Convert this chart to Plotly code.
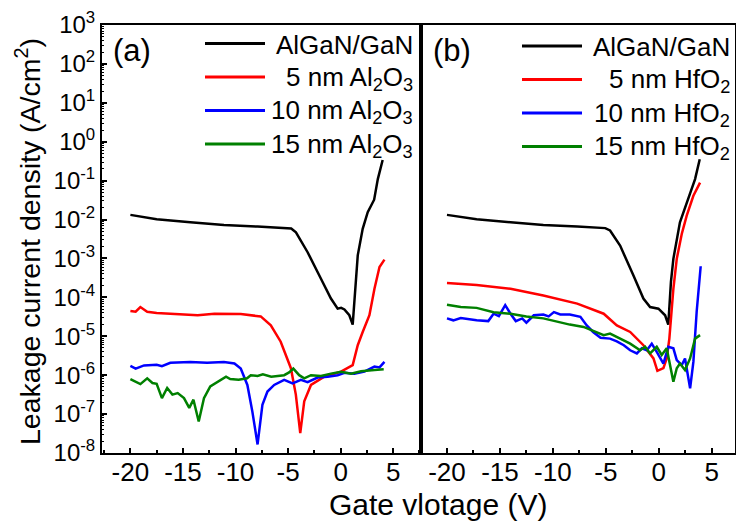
import numpy as np
import plotly.graph_objects as go
from plotly.subplots import make_subplots

# ---- Data: gate voltage (V) and log10 of leakage current density (A/cm^2) ----
# (a) AlGaN/GaN reference and Al2O3 gate dielectrics
ref_a_v = [-20, -17.5, -14.3, -11.1, -7.9, -4.7, -4.25, -3.14, -1.87, -0.92, -0.28,
           0.05, 0.36, 0.83, 1.15, 1.47, 1.63, 2.1, 2.58, 3.19, 3.54, 4.0]
ref_a_lg = [-1.88, -1.99, -2.07, -2.14, -2.18, -2.23, -2.33, -2.84, -3.52, -4.03, -4.29,
            -4.27, -4.31, -4.46, -4.70, -3.52, -2.92, -2.24, -1.81, -1.49, -0.96, -0.47]

al5_v = [-20, -19.5, -19.05, -18.4, -17.5, -15.9, -13.6, -12.0, -11.1, -9.5, -7.6, -6.64,
         -5.7, -4.73, -4.26, -3.84, -3.46, -2.82, -1.55, 0.04, 1.15, 1.63, 2.1, 2.74,
         3.22, 3.7, 4.17]
al5_lg = [-4.35, -4.37, -4.25, -4.37, -4.40, -4.42, -4.46, -4.42, -4.42, -4.43, -4.49, -4.72,
          -5.14, -5.82, -6.50, -7.49, -6.67, -6.25, -6.04, -5.91, -5.74, -5.23, -4.89, -4.46,
          -3.78, -3.22, -3.03]

al10_v = [-20, -19.5, -18.7, -17.5, -17.0, -16.2, -14.3, -12.7, -11.1, -10.1, -9.5, -8.87,
          -8.4, -7.9, -7.44, -6.96, -6.32, -5.37, -4.57, -3.78, -3.14, -2.19, -1.23, -0.28,
          0.36, 1.31, 2.26, 3.22, 3.7, 4.17]
al10_lg = [-5.76, -5.83, -5.75, -5.73, -5.77, -5.68, -5.66, -5.68, -5.66, -5.70, -5.83, -6.25,
           -6.93, -7.78, -6.76, -6.42, -6.25, -6.12, -6.21, -6.12, -6.18, -6.06, -6.04, -6.00,
           -5.94, -5.96, -5.91, -5.78, -5.80, -5.66]

al15_v = [-20, -19.05, -18.4, -17.9, -17.5, -17.0, -16.5, -16.0, -15.5, -14.9, -14.4, -14.0,
          -13.5, -13.0, -12.4, -11.6, -10.9, -10.5, -9.7, -8.9, -8.55, -7.9, -7.4, -6.6,
          -5.37, -4.9, -4.5, -3.94, -3.46, -2.82, -1.87, -0.92, 0.04, 0.99, 1.94, 3.22, 4.1]
al15_lg = [-6.10, -6.23, -6.08, -6.20, -6.22, -6.59, -6.33, -6.50, -6.46, -6.59, -6.84, -6.63,
           -7.19, -6.59, -6.29, -6.16, -6.04, -6.10, -6.12, -6.08, -6.00, -6.02, -5.98, -6.04,
           -6.00, -5.93, -5.83, -6.00, -6.08, -6.00, -6.02, -5.96, -5.91, -5.96, -5.90, -5.87,
           -5.85]

# (b) AlGaN/GaN reference and HfO2 gate dielectrics
ref_b_v = [-20, -17.2, -14.0, -10.9, -7.7, -5.06, -4.6, -3.65, -2.39, -1.45, -0.82, -0.03,
           0.6, 0.9, 1.15, 1.38, 2.0, 2.8, 3.43, 3.87]
ref_b_lg = [-1.88, -1.99, -2.07, -2.14, -2.18, -2.22, -2.28, -2.67, -3.44, -4.03, -4.25, -4.29,
            -4.46, -4.70, -3.60, -3.01, -2.07, -1.48, -0.96, -0.45]

hf5_v = [-20, -17.2, -14.0, -10.9, -7.7, -5.2, -3.96, -2.7, -1.45, -0.5, -0.13, 0.44,
         0.75, 1.0, 1.38, 1.7, 2.17, 2.64, 3.27, 3.9]
hf5_lg = [-3.63, -3.68, -3.78, -3.95, -4.16, -4.42, -4.72, -4.89, -5.23, -5.57, -5.89, -5.82,
          -5.57, -5.06, -3.78, -3.01, -2.37, -1.90, -1.39, -1.05]

hf10_v = [-20, -19.4, -18.7, -17.2, -16.1, -15.6, -15.1, -14.5, -14.0, -13.5, -12.9, -12.5,
          -11.8, -10.9, -10.4, -9.9, -9.3, -8.4, -7.4, -6.8, -6.2, -5.5, -4.6, -3.96, -3.3,
          -2.7, -2.07, -1.6, -1.13, -0.66, -0.19, 0.44, 0.9, 1.38, 1.7, 2.17, 2.48, 2.96,
          3.27, 3.58, 3.96]
hf10_lg = [-4.54, -4.59, -4.53, -4.59, -4.61, -4.42, -4.48, -4.20, -4.42, -4.61, -4.54, -4.65,
           -4.46, -4.44, -4.49, -4.38, -4.44, -4.44, -4.50, -4.72, -4.89, -5.04, -5.06, -5.13,
           -5.23, -5.36, -5.44, -5.31, -5.36, -5.19, -5.40, -5.70, -5.27, -5.31, -5.61, -5.74,
           -5.57, -6.34, -5.66, -4.37, -3.20]

hf15_v = [-20, -18.7, -17.2, -15.6, -14.0, -12.5, -10.9, -9.6, -8.4, -7.1, -5.85, -5.2,
          -4.6, -3.65, -2.7, -1.76, -1.29, -0.82, -0.19, 0.28, 0.75, 1.38, 1.7, 2.0, 2.48,
          2.96, 3.43, 3.9]
hf15_lg = [-4.19, -4.25, -4.27, -4.38, -4.42, -4.49, -4.54, -4.63, -4.70, -4.76, -4.89, -4.97,
           -4.93, -5.06, -5.19, -5.36, -5.27, -5.44, -5.27, -5.48, -5.31, -6.17, -5.82, -5.70,
           -5.87, -5.57, -5.06, -4.97]

panel_a = [("AlGaN/GaN", ref_a_v, ref_a_lg, "#000000"),
           ("5 nm Al<sub>2</sub>O<sub>3</sub>", al5_v, al5_lg, "#ff0000"),
           ("10 nm Al<sub>2</sub>O<sub>3</sub>", al10_v, al10_lg, "#0000ff"),
           ("15 nm Al<sub>2</sub>O<sub>3</sub>", al15_v, al15_lg, "#008000")]
panel_b = [("AlGaN/GaN", ref_b_v, ref_b_lg, "#000000"),
           ("5 nm HfO<sub>2</sub>", hf5_v, hf5_lg, "#ff0000"),
           ("10 nm HfO<sub>2</sub>", hf10_v, hf10_lg, "#0000ff"),
           ("15 nm HfO<sub>2</sub>", hf15_v, hf15_lg, "#008000")]

decades = list(range(-8, 4))
y_tick_vals = [10.0 ** d for d in decades]
y_tick_text = ["10<sup>%d</sup>" % d for d in decades]
x_tick_vals = [-20, -15, -10, -5, 0, 5]
x_tick_text = ["%d" % v for v in x_tick_vals]

# ---- Page geometry (pixels) ----
W, H = 736, 523
ML, MR, MT, MB = 102, 1, 25, 70
PW, PH = W - ML - MR, H - MT - MB
SPLIT = 420.5


def fx(px):
    return (px - ML) / PW


def fy(py):
    return (H - MB - py) / PH


FONT = "Liberation Sans, Arial, sans-serif"

fig = make_subplots(rows=1, cols=2, shared_yaxes=True, horizontal_spacing=0)
fig.update_layout(xaxis=dict(domain=[0, fx(SPLIT)]), xaxis2=dict(domain=[fx(SPLIT), 1]))

for col, panel in ((1, panel_a), (2, panel_b)):
    for name, v, lg, color in panel:
        fig.add_trace(go.Scatter(x=v, y=10.0 ** np.array(lg), mode="lines", name=name,
                                 line=dict(color=color, width=2.5), showlegend=False),
                      row=1, col=col)

xcommon = dict(showline=True, linewidth=2, linecolor="black", mirror=True,
               showgrid=False, zeroline=False, ticks="inside", ticklen=5, tickwidth=1.5,
               tickcolor="black", tickmode="array", tickvals=x_tick_vals,
               ticktext=x_tick_text, automargin=False, ticklabelstandoff=-5,
               tickfont=dict(family=FONT, size=26, color="black"),
               minor=dict(ticks="inside", ticklen=3, tickwidth=1.5, tickmode="linear",
                          dtick=2.5, tick0=0, tickcolor="black", showgrid=False))
fig.update_xaxes(range=[-22.7, 7.6], row=1, col=1, **xcommon)
fig.update_xaxes(range=[-22.5, 7.2], row=1, col=2, **xcommon)

fig.update_yaxes(type="log", range=[-8, 3], showline=True, linewidth=2, linecolor="black",
                 mirror=True, showgrid=False, zeroline=False, automargin=False)
fig.update_yaxes(row=1, col=1, tickmode="array", tickvals=y_tick_vals, ticktext=y_tick_text,
                 ticks="inside", ticklen=5, tickwidth=1.5, tickcolor="black",
                 tickfont=dict(family=FONT, size=24, color="black"),
                 minor=dict(ticks="inside", ticklen=2, tickwidth=1, tickcolor="black",
                            dtick="D1", showgrid=False))
fig.update_yaxes(row=1, col=2, showticklabels=False, ticks="")

annotations = []
shapes = []

# Panel tags
for txt, px in (("(a)", 111), ("(b)", 431)):
    annotations.append(dict(text=txt, x=fx(px), y=fy(51), xref="paper", yref="paper",
                            xanchor="left", yanchor="middle", showarrow=False,
                            font=dict(family=FONT, size=31, color="black")))

# Hand-placed legends with right-aligned labels
legend_specs = ((panel_a, 205, 265, 415, [43.5, 77, 110.5, 144]),
                (panel_b, 522, 582, 732, [46, 79.5, 113, 146.5]))
for panel, x0, x1, xt, rows in legend_specs:
    for (name, _, _, color), py in zip(panel, rows):
        shapes.append(dict(type="line", xref="paper", yref="paper", x0=fx(x0), x1=fx(x1),
                           y0=fy(py), y1=fy(py), line=dict(color=color, width=3)))
        annotations.append(dict(text=name, x=fx(xt), y=fy(py + 1), xref="paper",
                                yref="paper", xanchor="right", yanchor="middle",
                                showarrow=False,
                                font=dict(family=FONT, size=26, color="black")))

# Axis titles
annotations.append(dict(text="Gate vlotage (V)", x=fx(438), y=fy(505), xref="paper",
                        yref="paper", xanchor="center", yanchor="middle", showarrow=False,
                        font=dict(family=FONT, size=30, color="black")))
annotations.append(dict(text="Leakage current density (A/cm<sup>2</sup>)", x=fx(28),
                        y=fy(242), xref="paper", yref="paper", xanchor="center",
                        yanchor="middle", textangle=-90, showarrow=False,
                        font=dict(family=FONT, size=28.5, color="black")))

fig.update_layout(width=W, height=H, margin=dict(l=ML, r=MR, t=MT, b=MB),
                  paper_bgcolor="white", plot_bgcolor="white",
                  annotations=annotations, shapes=shapes, showlegend=False)

fig.write_html("out.html")
